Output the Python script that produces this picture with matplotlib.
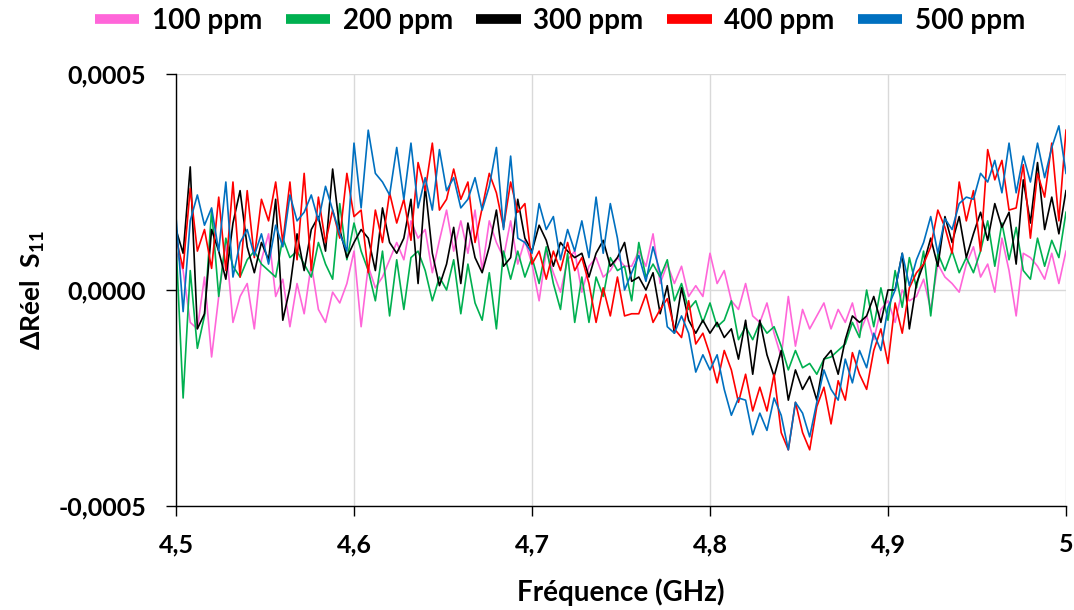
"""
plot.py

Delta real part of S11 vs frequency for five concentrations.
"""

import matplotlib

matplotlib.use("Agg")
import matplotlib.pyplot as plt
import numpy as np
from matplotlib.lines import Line2D
from matplotlib.ticker import FixedLocator, FuncFormatter

# values, in units of 1e-4
SCALE = 1e-4
FREQ_START, FREQ_STOP = 4.5, 5.0

ppm_100 = [
    0.9, 0.45, -0.75, -0.9, 0.3, -1.55, -0.15, 1.1, -0.75, -0.15,
    0.15, -0.9, 0.7, 1.3, -0.15, 0.25, -0.85, 0.15, -0.55, 0.6,
    -0.45, -0.75, -0.05, -0.3, 0.15, 0.9, -0.85, 0.55, 0.05, 0.3,
    0.7, 1.1, 0.7, 1.6, 1.2, 1.4, 0.4, 1.15, 1.85, 0.9,
    1.6, 0.85, 1.85, 0.45, 1.6, 1.1, 0.75, 1.6, 0.6, 1.15,
    0.6, -0.25, 0.9, 0.4, -0.05, 0.7, 0.9, -0.05, 0.55, 0.75,
    0.3, 0.45, 0.75, 0.55, 0.55, 0.9, 0.55, 1.3, 0.15, 0.6,
    0.15, 0.55, -0.15, 0.1, -0.15, 0.85, 0.15, 0.45, -0.25, -0.45,
    0.15, -0.6, -0.75, -0.3, -1.0, -1.55, -0.15, -1.3, -0.45, -0.9,
    -0.6, -0.3, -0.9, -0.45, -0.75, -0.3, -1.0, -0.6, -1.15, -0.45,
    -0.25, -0.75, 0.0, -0.25, -0.15, 0.25, -0.45, 0.6, 0.3, 0.15,
    -0.05, 0.6, 1.0, 0.3, 0.6, -0.05, 1.2, 0.45, -0.6, 0.85,
    0.75, 0.55, 0.25, 0.85, 0.15, 0.9,
]

ppm_200 = [
    1.1, -2.5, 0.45, -1.35, -0.6, 1.85, -0.15, 1.2, 0.55, 0.3,
    0.7, 0.9, 0.6, 0.45, 0.3, 1.2, 0.75, 0.9, 0.6, 0.3,
    1.1, 0.6, 0.25, 2.0, 0.7, 1.55, 0.9, 0.45, -0.25, 0.9,
    -0.6, 0.7, -0.45, 0.75, 0.9, 0.45, -0.25, 0.3, 0.0, 0.7,
    -0.55, 0.6, -0.3, -0.7, 0.4, -0.9, 0.9, 0.25, 0.9, 0.3,
    0.75, 0.15, 1.0, 0.15, -0.45, 0.85, -0.75, 0.3, -0.75, 0.3,
    -0.15, 0.75, 0.45, 0.55, -0.25, 1.1, 0.3, 0.6, 0.3, 0.7,
    -0.25, 0.15, -0.45, -0.25, -0.75, -0.3, -0.85, -0.7, -0.25, -1.15,
    -0.85, -1.15, -0.75, -1.0, -0.85, -1.3, -1.85, -1.4, -1.8, -1.7,
    -1.95, -1.6, -1.55, -1.4, -1.25, -0.75, -1.1, 0.0, -0.85, 0.05,
    -0.7, 0.45, -0.4, 0.75, 0.05, 0.9, -0.6, 0.85, 0.45, 0.9,
    0.4, 0.75, 0.4, 0.9, 1.6, 0.55, 1.55, 0.7, 1.45, 0.45,
    0.25, 1.2, 0.55, 1.15, 0.75, 1.8,
]

ppm_300 = [
    1.4, 0.85, 2.85, -0.9, -0.55, 1.4, 0.9, 0.25, 1.55, 2.3,
    1.0, 0.4, 1.1, 0.7, 2.1, -0.7, 0.05, 1.3, 0.45, 1.4,
    1.7, 0.9, 2.8, 1.4, 0.75, 1.1, 1.4, 1.2, 0.45, 1.9,
    1.1, 0.85, 1.2, 2.1, 0.15, 2.4, 0.85, 0.1, 0.6, 1.45,
    0.15, 1.55, 0.75, 0.4, 1.0, 1.85, 0.55, 0.75, 2.1, 1.2,
    0.9, 1.5, 1.15, 0.55, 1.1, 0.9, 0.75, 0.85, 0.3, 0.85,
    1.15, 0.55, 0.75, 1.1, 0.2, 0.3, 0.0, 0.4, -0.55, 0.1,
    -1.0, 0.05, -0.7, -1.0, -0.7, -1.0, -0.75, -1.1, -0.9, -1.6,
    -0.7, -1.95, -0.7, -1.5, -2.0, -1.4, -2.55, -1.85, -2.3, -2.0,
    -2.55, -1.6, -1.4, -1.95, -1.15, -0.6, -0.75, -0.6, -0.15, -0.75,
    0.0, 0.0, 0.85, -0.9, 0.15, 0.6, 1.2, 0.55, 1.7, 1.1,
    1.7, 0.75, 1.3, 1.8, 1.15, 2.0, 1.45, 1.8, 0.6, 2.55,
    1.55, 2.95, 1.4, 2.15, 1.3, 2.3,
]

ppm_400 = [
    1.2, 0.5, 2.35, 0.9, 1.4, 0.5, 2.15, 0.45, 2.5, 0.3,
    2.3, 0.75, 2.1, 1.6, 2.5, 1.1, 2.5, 0.7, 2.7, 0.45,
    2.15, 1.1, 1.85, 1.2, 2.7, 1.7, 1.85, 0.4, 1.85, 1.1,
    2.25, 1.55, 2.1, 1.15, 2.95, 2.3, 3.4, 1.85, 2.1, 2.8,
    2.1, 2.5, 1.1, 1.9, 2.7, 2.25, 1.45, 2.5, 1.8, 2.0,
    0.6, 0.9, 0.25, 0.9, 0.45, 1.1, 0.45, 0.75, 0.15, -0.75,
    0.05, -0.6, 0.3, -0.6, -0.55, -0.55, -0.1, -0.75, -0.45, -0.2,
    -0.9, -1.1, -0.25, -1.25, -1.0, -1.5, -2.15, -1.4, -1.85, -2.6,
    -1.95, -2.8, -2.25, -2.8, -1.95, -3.3, -3.7, -2.6, -3.3, -3.7,
    -2.7, -2.25, -3.1, -2.1, -2.55, -1.45, -1.95, -2.3, -1.4, -0.9,
    -1.7, -0.3, -1.0, 0.05, 0.4, 0.6, 1.0, 1.85, 1.45, 0.85,
    2.5, 1.6, 2.3, 0.9, 3.25, 2.55, 3.0, 1.85, 1.9, 2.9,
    1.2, 2.7, 2.15, 3.4, 1.6, 3.7,
]

ppm_500 = [
    1.7, -0.5, 1.6, 2.2, 1.5, 1.9, 0.9, 2.5, 0.3, 1.1,
    1.4, 0.8, 1.3, 0.6, 1.5, 1.0, 2.2, 1.6, 1.8, 2.2,
    1.6, 2.4, 1.85, 1.3, 0.9, 3.4, 1.9, 3.7, 2.7, 2.5,
    2.2, 3.3, 2.1, 3.4, 1.9, 2.6, 1.85, 3.25, 2.3, 2.6,
    1.9, 2.1, 2.6, 1.85, 2.4, 3.3, 1.4, 3.1, 1.2, 1.1,
    0.85, 2.0, 1.4, 1.7, 0.7, 1.4, 0.9, 1.6, 0.75, 2.15,
    0.85, 2.0, 1.2, 0.0, 0.4, 0.8, 0.2, 1.0, 0.4, -0.85,
    -1.0, -0.6, -1.0, -1.9, -1.5, -1.85, -1.5, -2.3, -2.9, -2.5,
    -2.55, -3.35, -2.85, -3.25, -2.5, -2.9, -3.7, -2.6, -2.85, -3.4,
    -2.6, -1.85, -2.3, -2.55, -1.6, -2.15, -1.4, -1.8, -1.0, -1.4,
    -0.4, 0.0, 0.85, 0.1, 0.7, 1.1, 1.7, 0.85, 1.65, 1.4,
    2.0, 2.15, 2.1, 2.7, 2.5, 3.0, 2.25, 3.4, 2.25, 3.1,
    2.5, 3.4, 2.6, 3.3, 3.8, 2.7,
]

labels = ["100 ppm", "200 ppm", "300 ppm", "400 ppm", "500 ppm"]
colors = ["#FF66D9", "#00B050", "#000000", "#FF0000", "#0070C0"]
series = [ppm_100, ppm_200, ppm_300, ppm_400, ppm_500]

x_ticks = [4.5, 4.6, 4.7, 4.8, 4.9, 5.0]
y_ticks = [-0.0005, 0.0, 0.0005]

FONT = ["Lato", "DejaVu Sans"]


def main():
    plt.rcParams["font.family"] = FONT
    plt.rcParams["font.weight"] = "bold"
    plt.rcParams["mathtext.fontset"] = "custom"
    plt.rcParams["mathtext.rm"] = "Lato:bold"
    plt.rcParams["mathtext.it"] = "Lato:bold"

    fig = plt.figure(figsize=(10.74, 6.10), dpi=100)
    ax = fig.add_axes([176 / 1074, 1 - 506 / 610, 890 / 1074, 432 / 610])

    for values, color in zip(series, colors):
        freq = np.linspace(FREQ_START, FREQ_STOP, len(values))
        ax.plot(freq, np.array(values) * SCALE, color=color, linewidth=1.2,
                solid_joinstyle="round")

    ax.set_xlim(FREQ_START, FREQ_STOP)
    ax.set_ylim(-0.0005, 0.0005)
    ax.xaxis.set_major_locator(FixedLocator(x_ticks))
    ax.yaxis.set_major_locator(FixedLocator(y_ticks))
    ax.xaxis.set_major_formatter(
        FuncFormatter(lambda v, _: f"{v:g}".replace(".", ","))
    )
    ax.yaxis.set_major_formatter(
        FuncFormatter(lambda v, _: f"{v:.4f}".replace(".", ",").replace("-0,0000", "0,0000"))
    )

    ax.grid(True, color="#D9D9D9", linewidth=1.0)
    ax.set_axisbelow(True)
    for side in ["top", "right"]:
        ax.spines[side].set_visible(False)
    for side in ["left", "bottom"]:
        ax.spines[side].set_color("black")
        ax.spines[side].set_linewidth(1.0)

    ax.tick_params(axis="both", direction="out", length=7.5, width=1.0,
                   labelsize=18, colors="black")
    ax.tick_params(axis="y", pad=14)
    ax.tick_params(axis="x", pad=12)

    ax.set_xlabel("Fréquence (GHz)", fontsize=20, fontweight="bold", labelpad=16)
    ax.set_ylabel("ΔRéel  S$_{11}$", fontsize=19, fontweight="bold", labelpad=8)

    handles = [
        Line2D([], [], color=c, linewidth=7, solid_capstyle="butt") for c in colors
    ]
    fig.legend(
        handles,
        labels,
        loc="center",
        bbox_to_anchor=(560 / 1074, 1 - 21 / 610),
        ncol=5,
        frameon=False,
        fontsize=20,
        handlelength=1.6,
        handletextpad=0.45,
        columnspacing=0.85,
    )

    fig.savefig("out.png", dpi=100)


if __name__ == "__main__":
    main()
